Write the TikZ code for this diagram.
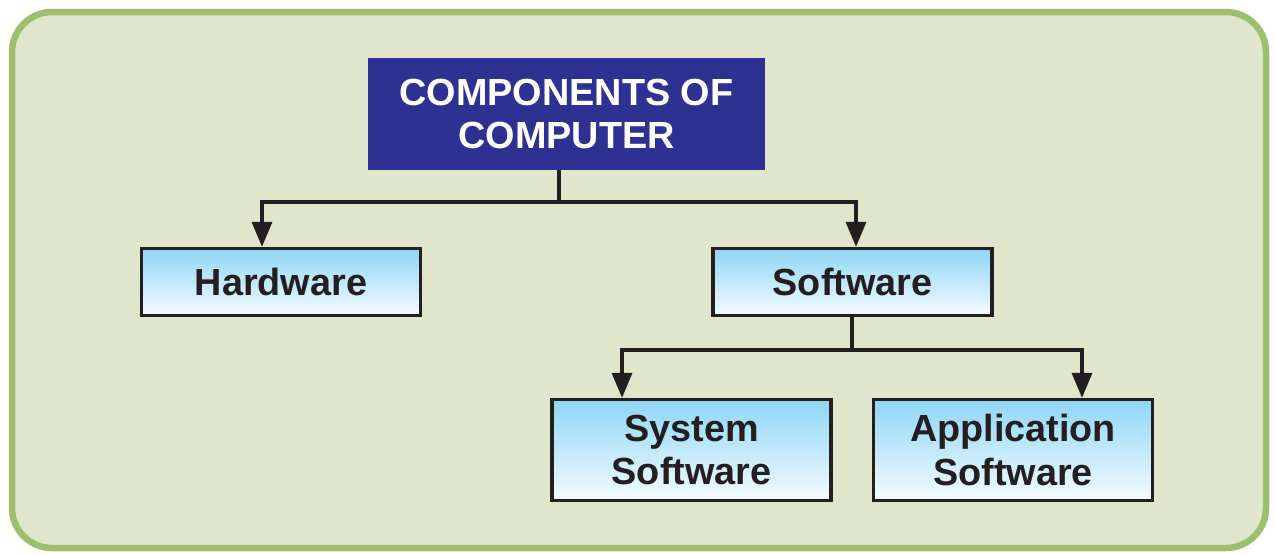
\documentclass[tikz,border=0pt]{standalone}
\usepackage{fontspec}
\setmainfont{Liberation Sans}
\usetikzlibrary{arrows.meta}
\definecolor{frameGreen}{HTML}{9BBF6A}
\definecolor{frameFill}{HTML}{E0E6CB}
\definecolor{titleBlue}{HTML}{2E3192}
\definecolor{boxTop}{HTML}{8ED6F6}
\definecolor{boxBottom}{HTML}{F4FBFE}
\definecolor{inkBlack}{HTML}{231F20}
\tikzstyle{title} = [rectangle, minimum width=7.94cm, minimum height=2.24cm, align=center, fill=titleBlue, text=white, font=\fontsize{21.5}{24.5}\selectfont\bfseries]
\tikzstyle{part} = [rectangle, minimum width=5.58cm, minimum height=1.34cm, align=center, draw=inkBlack, line width=0.065cm, top color=boxTop, bottom color=boxBottom, text=inkBlack, font=\fontsize{21.5}{24.5}\selectfont\bfseries]
\tikzstyle{line} = [line width=0.065cm, draw=inkBlack]
\tikzstyle{arrow} = [line width=0.065cm, draw=inkBlack, -{Triangle[length=0.5cm,width=0.4cm]}]

\begin{document}
\begin{tikzpicture}

\useasboundingbox (0,0) rectangle (25.5,-11.08);
\draw [frameGreen, fill=frameFill, line width=0.13cm, rounded corners=0.8cm] (0.24,-0.24) rectangle (25.32,-10.96);

\node (comp) [title] at (11.33,-2.28) {COMPONENTS OF\\COMPUTER};

\node (hw) [part] at (5.62,-5.64) {Hardware};
\node (sw) [part] at (17.05,-5.64) {Software};

\node (sys) [part, minimum height=2.02cm] at (13.83,-9.0) {System\\Software};
\node (app) [part, minimum height=2.02cm] at (20.26,-9.0) {Application\\Software};

\coordinate (bus1) at (11.18,-4.04);
\coordinate (bus2) at (17.04,-7.0);

\draw [line] (comp.south -| bus1) -- (bus1);
\draw [arrow] (bus1) -| ([xshift=-0.38cm]hw.north);
\draw [arrow] (bus1) -| ([xshift=0.07cm]sw.north);

\draw [line] (sw.south -| bus2) -- (bus2);
\draw [arrow] (bus2) -| ([xshift=-1.39cm]sys.north);
\draw [arrow] (bus2) -| ([xshift=1.38cm]app.north);

\end{tikzpicture}
\end{document}
